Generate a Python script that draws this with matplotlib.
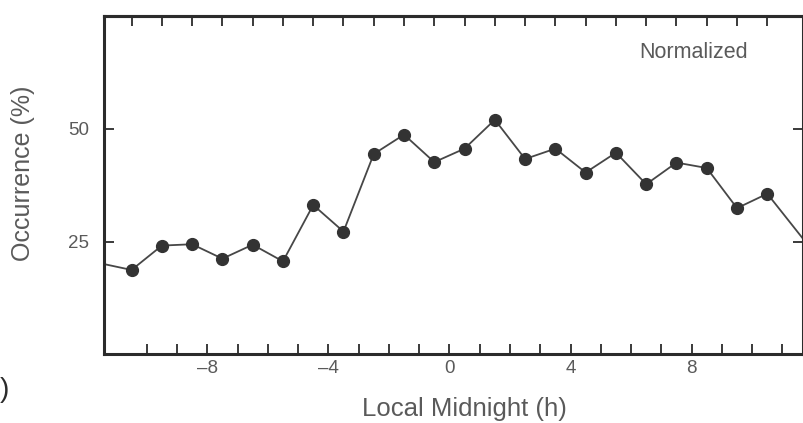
import matplotlib
matplotlib.use("Agg")
import matplotlib.pyplot as plt

plt.rcParams["font.family"] = ["Liberation Sans", "DejaVu Sans"]

# hourly occurrence, sampled at the half hour around local midnight
hours = [-10.5, -9.5, -8.5, -7.5, -6.5, -5.5, -4.5, -3.5, -2.5, -1.5, -0.5,
         0.5, 1.5, 2.5, 3.5, 4.5, 5.5, 6.5, 7.5, 8.5, 9.5, 10.5]
occurrence = [18.7, 24.1, 24.4, 21.2, 24.3, 20.6, 33.1, 27.2, 44.4, 48.7, 42.6,
              45.6, 52.0, 43.3, 45.6, 40.3, 44.7, 37.7, 42.5, 41.3, 32.4, 35.6]
# where the curve leaves the frame on either side
edge_values = [20.0, 25.7]

x_ticks = list(range(-10, 12))
x_label_hours = [-8, -4, 0, 4, 8]
y_ticks = [25, 50]

XLIM = (-11.41, 11.67)
YLIM = (0, 75)

INK = "#2b2b2b"
TEXT = "#5a5a5a"

fig = plt.figure(figsize=(8.04, 4.23), dpi=100)
ax = fig.add_axes([0.1294, 0.1624, 0.8690, 0.7998])

# line runs from edge to edge, markers only on the measured points
line_x = [XLIM[0]] + hours + [XLIM[1]]
line_y = [edge_values[0]] + occurrence + [edge_values[1]]
ax.plot(line_x, line_y, color="#474747", linewidth=1.3, zorder=2)
ax.plot(hours, occurrence, linestyle="none", marker="o", markersize=8.5,
        color="#333333", zorder=3)

ax.set_xlim(*XLIM)
ax.set_ylim(*YLIM)

labels = []
for h in x_ticks:
    if h in x_label_hours:
        labels.append(("\u2013" if h < 0 else "") + str(abs(h)))
    else:
        labels.append("")
ax.set_xticks(x_ticks)
ax.set_xticklabels(labels)
ax.set_yticks(y_ticks)

ax.tick_params(axis="both", direction="in", length=7, width=1.3, color=INK,
               labelcolor=TEXT, labelsize=13.5)
ax.tick_params(axis="x", pad=4)
ax.tick_params(axis="y", pad=11, right=True)

top = ax.secondary_xaxis("top")
top.set_xticks(hours)
top.tick_params(direction="in", length=7, width=1.3, color=INK, labeltop=False)
top.spines["top"].set_linewidth(2.2)
top.spines["top"].set_color(INK)

for s in ax.spines.values():
    s.set_linewidth(2.2)
    s.set_color(INK)

fig.text(464 / 804, 1 - 416 / 423, "Local Midnight (h)", ha="center",
         va="baseline", fontsize=18.5, color=TEXT)
fig.text(23 / 804, 1 - 173.5 / 423, "Occurrence (%)", rotation=90,
         ha="center", va="center", fontsize=18, color=TEXT)
ax.text(0.844, 0.876, "Normalized", transform=ax.transAxes, ha="center",
        va="baseline", fontsize=15.5, color=TEXT)
# what is left of the panel letter at the left edge of the scan
fig.text(0.0, 1 - 390 / 423, ")", ha="left", va="center", fontsize=20,
         color=INK)

fig.savefig("out.png", dpi=100, facecolor="white")
